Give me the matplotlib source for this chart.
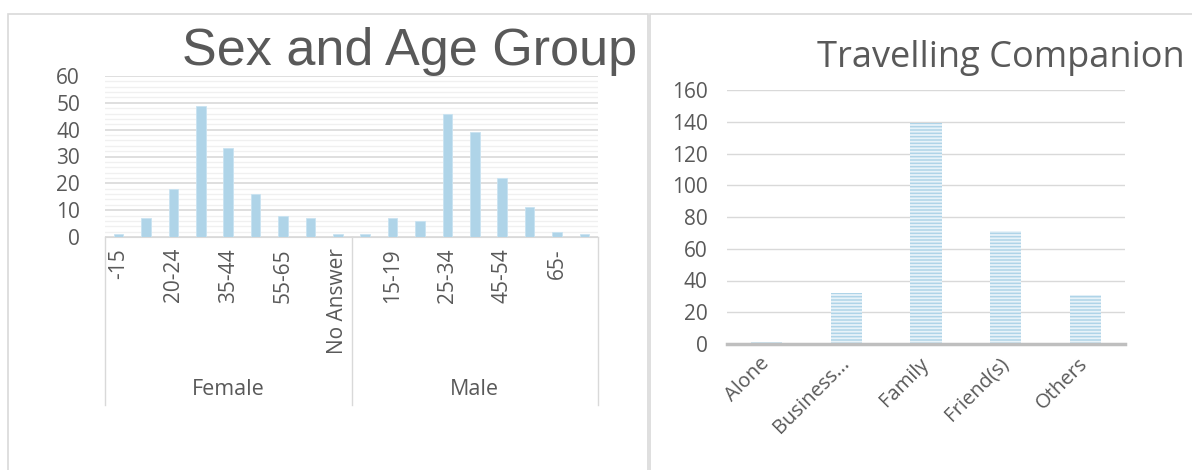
import matplotlib.pyplot as plt
from matplotlib.patches import Rectangle

# Left chart data: sex and age group
age_groups = ["-15", "15-19", "20-24", "25-34", "35-44", "45-54", "55-65", "65-", "No Answer"]
female_counts = [1, 7, 18, 49, 33, 16, 8, 7, 1]
male_counts = [1, 7, 6, 46, 39, 22, 11, 2, 1]
sexes = ["Female", "Male"]

# Right chart data: travelling companion
companions = ["Alone", "Business...", "Family", "Friend(s)", "Others"]
companion_counts = [1, 32, 139, 71, 31]

BAR = "#afd4e8"
TEXT = "#595959"
GRID = "#d9d9d9"
plt.rcParams["hatch.linewidth"] = 1.3

fig = plt.figure(figsize=(11.92, 4.70), dpi=100)

# chart frames
fig.patches.append(Rectangle((8 / 1192, -0.1), 640 / 1192, 1.1 - 14 / 470, transform=fig.transFigure,
                             fill=False, edgecolor=GRID, linewidth=1.2))
fig.patches.append(Rectangle((650 / 1192, -0.1), 0.5, 1.1 - 14 / 470, transform=fig.transFigure,
                             fill=False, edgecolor=GRID, linewidth=1.2))

# ---- Left chart ----
ax1 = fig.add_axes([105 / 1192, 1 - 237 / 470, 493 / 1192, 161 / 470])
values = female_counts + male_counts
labels = age_groups + age_groups
xs = list(range(len(values)))
ax1.bar(xs, values, width=0.35, color=BAR, edgecolor="#c9e3f1", linewidth=0.6, zorder=3)
ax1.set_xlim(-0.5, len(values) - 0.5)
ax1.set_ylim(0, 60)
ax1.set_yticks(range(0, 61, 10))
ax1.set_yticks(range(0, 61, 2), minor=True)
ax1.grid(axis="y", which="major", color=GRID, linewidth=1.2, zorder=0)
ax1.grid(axis="y", which="minor", color="#f0f0f0", linewidth=1.0, zorder=0)
ax1.tick_params(axis="y", which="both", length=0, labelsize=15, labelcolor=TEXT, pad=18)
ax1.set_xticks(xs[::2])
ax1.set_xticklabels(labels[::2], rotation=90, fontsize=15, color=TEXT, family="Open Sans")
ax1.tick_params(axis="x", length=0, pad=8)
for lab in ax1.get_yticklabels():
    lab.set_family("Open Sans")
for s in ["top", "right", "left"]:
    ax1.spines[s].set_visible(False)
ax1.spines["bottom"].set_color(GRID)

trans = ax1.get_xaxis_transform()
n = len(age_groups)
for xb in [-0.5, n - 0.5, 2 * n - 0.5]:
    ax1.plot([xb, xb], [0, -1.045], transform=trans, color=GRID, linewidth=1.0, clip_on=False)
for i, sex in enumerate(sexes):
    ax1.text(i * n + (n - 1) / 2, -0.95, sex, transform=trans, ha="center", va="center",
             fontsize=15.5, color=TEXT, family="Open Sans")

fig.text(410 / 1192, 1 - 52 / 470, "Sex and Age Group", ha="center", va="center",
         fontsize=37.5, color=TEXT, family="Liberation Sans")

# ---- Right chart ----
ax2 = fig.add_axes([727 / 1192, 1 - 344 / 470, 398 / 1192, 254 / 470])
cx = list(range(len(companions)))
ax2.bar(cx, companion_counts, width=0.39, color=BAR, edgecolor="#e8f3f9", linewidth=0,
        hatch="-----", zorder=3)
ax2.set_xlim(-0.5, len(companions) - 0.5)
ax2.set_ylim(0, 160)
ax2.set_yticks(range(0, 161, 20))
ax2.grid(axis="y", color=GRID, linewidth=1.0, zorder=0)
ax2.tick_params(axis="y", length=0, labelsize=15, labelcolor=TEXT, pad=14)
for lab in ax2.get_yticklabels():
    lab.set_family("Open Sans")
ax2.set_xticks(cx)
ax2.set_xticklabels(companions, rotation=45, ha="right", va="center", rotation_mode="anchor",
                    fontsize=14.5, color=TEXT, family="Open Sans")
ax2.tick_params(axis="x", length=0, pad=12)
for s in ["top", "right", "left"]:
    ax2.spines[s].set_visible(False)
ax2.spines["bottom"].set_color("#bfbfbf")
ax2.spines["bottom"].set_linewidth(2.5)
ax2.spines["bottom"].set_zorder(4)

fig.text(1001 / 1192, 1 - 58 / 470, "Travelling Companion", ha="center", va="center",
         fontsize=26, color=TEXT, family="Open Sans")

fig.savefig("out.png", dpi=100)
